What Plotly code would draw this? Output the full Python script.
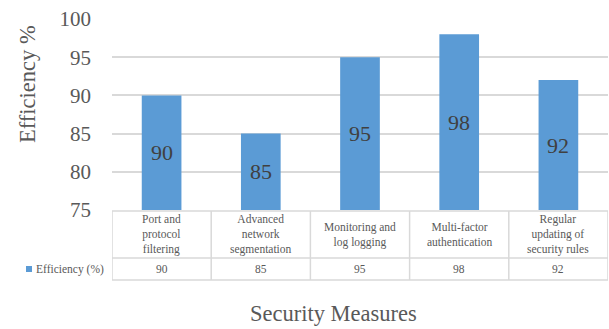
import plotly.graph_objects as go

categories = ["Port and<br>protocol<br>filtering", "Advanced<br>network<br>segmentation",
              "Monitoring and<br>log logging", "Multi-factor<br>authentication",
              "Regular<br>updating of<br>security rules"]
values = [90, 85, 95, 98, 92]
series_name = "Efficiency (%)"
y_ticks = [75, 80, 85, 90, 95, 100]
y_min, y_max = 75, 100

BAR = "#5B9BD5"
GRID = "#D9D9D9"
TXT = "#595959"
FONT = "Liberation Serif"

W, H = 609, 329
L, R, T, B = 112, 1, 19, 119
plot_h = H - T - B
plot_w = W - L - R

def py(p):  # pixel y -> paper y
    return (H - B - p) / plot_h

def px(p):  # pixel x -> paper x
    return (p - L) / plot_w

n = len(values)
xs = list(range(n))

fig = go.Figure()
fig.add_trace(go.Bar(
    x=xs, y=values, width=0.4, marker=dict(color=BAR, line=dict(width=0)),
    name=series_name, showlegend=False, hoverinfo="x+y",
))

shapes = []
line = dict(color=GRID, width=1.5)
y_top, y_mid, y_bot = py(211), py(258), py(280)
x_leg = -0.5 + (22 - L) / (plot_w / n)
shapes.append(dict(type="line", xref="x", yref="paper", x0=-0.5, x1=n - 0.5, y0=y_top, y1=y_top, line=line))
shapes.append(dict(type="line", xref="x", yref="paper", x0=x_leg, x1=n - 0.5, y0=y_mid, y1=y_mid, line=line))
shapes.append(dict(type="line", xref="x", yref="paper", x0=x_leg, x1=n - 0.5, y0=y_bot, y1=y_bot, line=line))
shapes.append(dict(type="line", xref="x", yref="paper", x0=x_leg, x1=x_leg, y0=y_mid, y1=y_bot, line=line))
for i in range(n + 1):
    xv = i - 0.5
    shapes.append(dict(type="line", xref="x", yref="paper", x0=xv, x1=xv, y0=y_top, y1=y_bot, line=line))
shapes.append(dict(type="rect", xref="paper", yref="paper", x0=px(26), x1=px(32),
                   y0=py(272), y1=py(266), fillcolor=BAR, line=dict(width=0)))

annotations = []
for i, c in enumerate(categories):
    annotations.append(dict(x=i, y=(y_min + values[i]) / 2, xref="x", yref="y", text=str(values[i]),
                            showarrow=False, font=dict(family=FONT, size=22, color="#404040"),
                            xanchor="center", yanchor="middle"))
    annotations.append(dict(x=i, y=(y_top + y_mid) / 2, xref="x", yref="paper", text=c,
                            showarrow=False, font=dict(family=FONT, size=11.5, color=TXT),
                            align="center", xanchor="center", yanchor="middle"))
    annotations.append(dict(x=i, y=(y_mid + y_bot) / 2, xref="x", yref="paper", text=str(values[i]),
                            showarrow=False, font=dict(family=FONT, size=11.5, color=TXT),
                            xanchor="center", yanchor="middle"))
annotations.append(dict(x=px(34), y=(y_mid + y_bot) / 2, xref="paper", yref="paper", text=series_name,
                        showarrow=False, font=dict(family=FONT, size=11.5, color=TXT),
                        xanchor="left", yanchor="middle"))
annotations.append(dict(x=px(27), y=py(84), xref="paper", yref="paper", text="Efficiency %",
                        textangle=-90, showarrow=False, font=dict(family=FONT, size=22.5, color=TXT),
                        xanchor="center", yanchor="middle"))
annotations.append(dict(x=px(333), y=py(313), xref="paper", yref="paper", text="Security Measures",
                        showarrow=False, font=dict(family=FONT, size=22.5, color=TXT),
                        xanchor="center", yanchor="middle"))

fig.update_layout(
    width=W, height=H, margin=dict(l=L, r=R, t=T, b=B),
    paper_bgcolor="white", plot_bgcolor="white",
    shapes=shapes, annotations=annotations,
    font=dict(family=FONT, color=TXT),
    xaxis=dict(range=[-0.5, n - 0.5], showticklabels=False, showgrid=False, zeroline=False,
               showline=False, ticks=""),
    yaxis=dict(range=[y_min, y_max], tickvals=y_ticks, showgrid=True, gridcolor=GRID, gridwidth=1.5,
               zeroline=False, showline=False, ticks="", ticklabelstandoff=20,
               tickfont=dict(family=FONT, size=21, color=TXT)),
)

fig.write_html("out.html")
